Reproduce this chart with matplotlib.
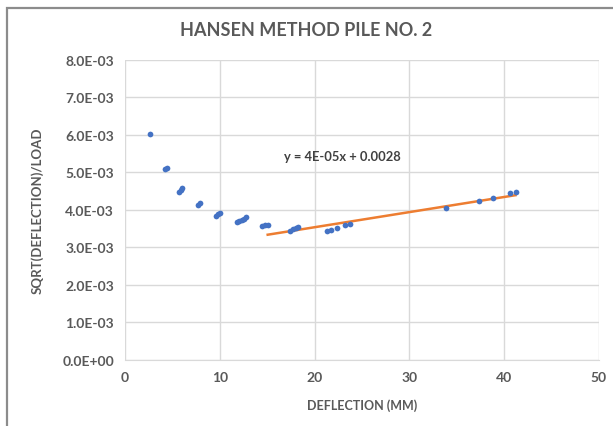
import numpy as np
import matplotlib.pyplot as plt
from matplotlib.patches import Rectangle

# measured deflection (mm) and sqrt(deflection)/load
deflection = [2.6, 4.2, 4.4, 5.7, 5.9, 6.0, 7.7, 7.9, 9.6, 9.8, 10.0,
              11.8, 12.0, 12.3, 12.6, 12.8, 14.5, 14.8, 15.05,
              17.4, 17.7, 18.0, 18.3, 21.3, 21.7, 22.4, 23.2, 23.7,
              33.9, 37.3, 38.8, 40.6, 41.2]
ratio = [6.03e-3, 5.08e-3, 5.13e-3, 4.47e-3, 4.53e-3, 4.58e-3, 4.14e-3, 4.18e-3,
         3.84e-3, 3.88e-3, 3.92e-3, 3.67e-3, 3.70e-3, 3.73e-3, 3.77e-3, 3.80e-3,
         3.56e-3, 3.59e-3, 3.61e-3, 3.45e-3, 3.48e-3, 3.51e-3, 3.54e-3,
         3.43e-3, 3.46e-3, 3.53e-3, 3.59e-3, 3.63e-3,
         4.04e-3, 4.24e-3, 4.32e-3, 4.45e-3, 4.47e-3]
fit_start = 15.0
equation = "y = 4E-05x + 0.0028"
xticks = [0, 10, 20, 30, 40, 50]
yticks = [0, 1e-3, 2e-3, 3e-3, 4e-3, 5e-3, 6e-3, 7e-3, 8e-3]

plt.rcParams['font.family'] = 'Lato'
plt.rcParams['font.weight'] = 'bold'
plt.rcParams['axes.labelweight'] = 'bold'
grey = '#595959'

fig = plt.figure(figsize=(6.13, 4.27), dpi=100)
ax = fig.add_axes([0.204, 0.1546, 0.773, 0.7026])

# outer chart border
fig.patches.append(Rectangle((7 / 613, -0.1), 1.0, 1.1 - 9 / 427, transform=fig.transFigure,
                             fill=False, edgecolor='#8c8c8c', linewidth=1.6))

x = np.array(deflection)
y = np.array(ratio)
ax.scatter(x, y, s=17, color='#4472C4', zorder=3, linewidths=0)

# linear trendline over the later part of the curve
mask = x >= fit_start
slope, intercept = np.polyfit(x[mask], y[mask], 1)
xs = np.array([x[mask].min(), x[mask].max()])
ax.plot(xs, slope * xs + intercept, color='#ED7D31', linewidth=1.8, zorder=2)
ax.text(22.9, 5.44e-3, equation, ha='center', va='center', fontsize=9.3,
        color='#404040', fontweight='bold')

ax.set_xlim(0, 50)
ax.set_ylim(0, 8e-3)
ax.set_xticks(xticks)
ax.set_xticklabels([str(t) for t in xticks], fontweight='bold')
ax.set_yticks(yticks)
ax.set_yticklabels([f"{t:.1E}" for t in yticks], fontweight='bold')
ax.grid(True, color='#d9d9d9', linewidth=1)
ax.set_axisbelow(True)
for side in ['left', 'right', 'top']:
    ax.spines[side].set_visible(False)
ax.spines['bottom'].set_color('#d9d9d9')
ax.tick_params(length=0, labelsize=10, labelcolor=grey, pad=8)

ax.set_xlabel('DEFLECTION (MM)', fontsize=9, color=grey, fontweight='bold', labelpad=11)
ax.set_ylabel('SQRT(DEFLECTION)/LOAD', fontsize=9.5, color=grey, fontweight='bold', labelpad=13)
fig.text(0.5, 0.928, 'HANSEN METHOD PILE NO. 2', ha='center', va='center',
         fontsize=13, color=grey, fontweight='bold')

fig.savefig('out.png', dpi=100)
